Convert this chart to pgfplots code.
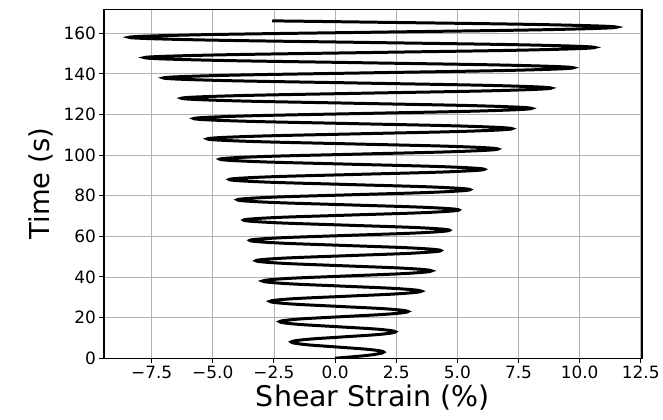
\documentclass[border=0pt]{standalone}
\usepackage{fontspec}
\setmainfont{DejaVu Sans}
\usepackage{pgfplots}
\pgfplotsset{compat=1.18}
\begin{document}
\begin{tikzpicture}
\begin{axis}[name=ax, scale only axis, width=539.7pt, height=350pt,
  xmin=-9.45, xmax=12.55, ymin=0, ymax=171.8,
  xtick={-7.5,-5,-2.5,0,2.5,5,7.5,10,12.5},
  xticklabels={−7.5,−5.0,−2.5,0.0,2.5,5.0,7.5,10.0,12.5},
  ytick={0,20,...,160},
  /pgf/number format/assume math mode=true,
  ticklabel style={font=\fontsize{17}{19}\selectfont},
  grid=major, grid style={color=black!30, line width=0.9pt},
  axis line style={line width=1.2pt}, tick style={black, line width=1pt},
  major tick length=4.5pt, tick align=outside, tick pos=left,
  xlabel={Shear Strain (\%)}, ylabel={Time (s)},
  xlabel style={font=\fontsize{28.5}{31}\selectfont},
  ylabel style={font=\fontsize{27.5}{30}\selectfont},
  ylabel shift=4pt, xlabel shift=-1pt,
]
\addplot[black, line width=3pt, smooth, tension=0.6] coordinates {
(0,0) (1.40,1.5) (1.99,3)
(1.435,4.25) (0.095,5.5) (-1.245,6.75) (-1.80,8)
(-1.174,9.25) (0.335,10.5) (1.844,11.75) (2.47,13)
(1.776,14.25) (0.10,15.5) (-1.576,16.75) (-2.27,18)
(-1.501,19.25) (0.355,20.5) (2.211,21.75) (2.98,23)
(2.152,24.25) (0.155,25.5) (-1.842,26.75) (-2.67,28)
(-1.762,29.25) (0.43,30.5) (2.622,31.75) (3.53,33)
(2.578,34.25) (0.28,35.5) (-2.018,36.75) (-2.97,38)
(-1.956,39.25) (0.49,40.5) (2.936,41.75) (3.95,43)
(2.897,44.25) (0.355,45.5) (-2.187,46.75) (-3.24,48)
(-2.131,49.25) (0.545,50.5) (3.221,51.75) (4.33,53)
(3.184,54.25) (0.42,55.5) (-2.344,56.75) (-3.49,58)
(-2.293,59.25) (0.595,60.5) (3.483,61.75) (4.68,63)
(3.446,64.25) (0.47,65.5) (-2.506,66.75) (-3.74,68)
(-2.451,69.25) (0.66,70.5) (3.771,71.75) (5.06,73)
(3.733,74.25) (0.53,75.5) (-2.673,76.75) (-4.00,78)
(-2.605,79.25) (0.76,80.5) (4.125,81.75) (5.52,83)
(4.077,84.25) (0.595,85.5) (-2.887,86.75) (-4.33,88)
(-2.802,89.25) (0.885,90.5) (4.572,91.75) (6.10,93)
(4.515,94.25) (0.69,95.5) (-3.135,96.75) (-4.72,98)
(-3.053,99.25) (0.97,100.5) (4.993,101.75) (6.66,103)
(4.918,104.25) (0.715,105.5) (-3.488,106.75) (-5.23,108)
(-3.403,109.25) (1.005,110.5) (5.413,111.75) (7.24,113)
(5.333,114.25) (0.73,115.5) (-3.873,116.75) (-5.78,118)
(-3.755,119.25) (1.13,120.5) (6.015,121.75) (8.04,123)
(5.942,124.25) (0.88,125.5) (-4.182,126.75) (-6.28,128)
(-4.065,129.25) (1.28,130.5) (6.625,131.75) (8.84,133)
(6.517,134.25) (0.91,135.5) (-4.697,136.75) (-7.02,138)
(-4.565,139.25) (1.36,140.5) (7.285,141.75) (9.74,143)
(7.17,144.25) (0.97,145.5) (-5.23,146.75) (-7.80,148)
(-5.101,149.25) (1.41,150.5) (7.921,151.75) (10.62,153)
(7.829,154.25) (1.095,155.5) (-5.639,156.75) (-8.43,158)
(-5.507,159.25) (1.545,160.5) (8.597,161.75) (11.52,163)
(8.48,164.25) (1.2,165.5) (-2.57,166.1)
};
\end{axis}
\path ([shift={(-104.3pt,-61.7pt)}]ax.south west) rectangle ([shift={(19pt,9.3pt)}]ax.north east);
\end{tikzpicture}
\end{document}
